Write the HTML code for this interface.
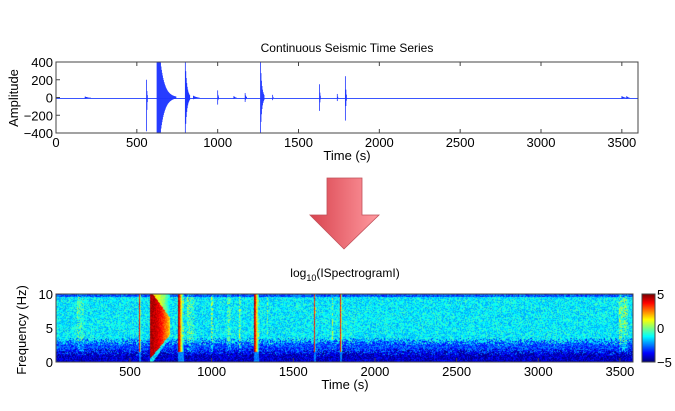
<!DOCTYPE html>
<html><head><meta charset="utf-8"><style>
body{margin:0;background:#fff;font-family:"Liberation Sans",Arial,sans-serif}
#wrap{position:relative;width:675px;height:411px;overflow:hidden}
svg text{font-family:"Liberation Sans",Arial,sans-serif}
canvas{position:absolute}
</style></head><body>
<div id="wrap">
<canvas id="spec" width="577" height="68" style="left:56px;top:294px"></canvas>
<canvas id="cbar" width="13" height="68" style="left:642px;top:294px"></canvas>
<svg id="svg" width="675" height="411" style="position:absolute;left:0;top:0"></svg>
</div>
<script>
// ---- data ----
const timeTicks=[0,500,1000,1500,2000,2500,3000,3500];
const ampTicks=[400,200,0,-200,-400];
const eventTimes=[180,560,625,800,850,1000,1100,1170,1265,1340,1630,1740,1790,3500,3530];
const eventUp=[10,200,400,400,20,80,15,50,400,30,150,40,240,15,15];
const eventDown=[-10,-380,-400,-400,-20,-80,-15,-50,-400,-30,-150,-40,-260,-15,-15];
const eventDur=[40,8,120,30,40,8,20,12,25,6,8,6,10,30,20];
const eventPower=[1.2,4,5,5,1.5,2,1.2,1.8,5,1.5,4,2,4,1.6,1.6];
const specTicks=[500,1000,1500,2000,2500,3000,3500];
const freqTicks=[0,5,10];
const cbarTicks=[5,0,-5];

const NS='http://www.w3.org/2000/svg';
const svg=document.getElementById('svg');
function el(tag,attrs,name,inter,text){const e=document.createElementNS(NS,tag);for(const k in attrs)e.setAttribute(k,attrs[k]);


if(text!==undefined)e.textContent=text;svg.appendChild(e);return e;}

// ---- top axes ----
const T={x0:56,x1:638,y0:62,y1:133,tmin:0,tmax:3600,amin:-400,amax:400};
const tx=t=>T.x0+(t-T.tmin)/(T.tmax-T.tmin)*(T.x1-T.x0);
const ay=a=>T.y1-(a-T.amin)/(T.amax-T.amin)*(T.y1-T.y0);
el('text',{x:347,y:52,'font-size':12,'text-anchor':'middle'},'top-title',false,'Continuous Seismic Time Series');
el('line',{x1:T.x0,x2:T.x1,y1:Math.round(ay(0))+0.5,y2:Math.round(ay(0))+0.5,stroke:'#3a55ff','stroke-width':1},'baseline-trace',false);
for(let i=0;i<eventTimes.length;i++){
  const t=eventTimes[i],d=eventDur[i];
  const n=Math.max(1,Math.round((tx(t+d)-tx(t))*2));
  for(let k=0;k<n;k++){const f=k/n;const dec=i==2?Math.min(1,2.2*Math.exp(-4.5*f)):Math.exp(-3*f);
    const x=tx(t+d*f);
    el('line',{x1:x,x2:x,y1:ay(Math.max(T.amin,eventDown[i]*(k==0?1:dec))),y2:ay(Math.min(T.amax,eventUp[i]*(k==0?1:dec))),stroke:'#1f36ff','stroke-width':0.8},'waveform-event',false);}
}
el('rect',{x:T.x0,y:T.y0,width:T.x1-T.x0,height:T.y1-T.y0,fill:'none',stroke:'#444','stroke-width':1},'top-axes-box',false);
timeTicks.forEach(t=>{const x=tx(t);
 el('line',{x1:x,x2:x,y1:T.y1,y2:T.y1-4,stroke:'#444'},'x-tick',false);
 el('line',{x1:x,x2:x,y1:T.y0,y2:T.y0+4,stroke:'#444'},'x-tick',false);
 el('text',{x:x,y:T.y1+14,'font-size':13,'text-anchor':'middle'},'x-tick-label',false,t);});
ampTicks.forEach(a=>{const y=ay(a);
 el('line',{x1:T.x0,x2:T.x0+4,y1:y,y2:y,stroke:'#444'},'y-tick',false);
 el('text',{x:T.x0-3,y:y+5,'font-size':13,'text-anchor':'end'},'y-tick-label',false,a<0?'−'+(-a):a);});
el('text',{x:347,y:160,'font-size':13,'text-anchor':'middle'},'x-axis-title',false,'Time (s)');
el('text',{x:18,y:98,'font-size':13,'text-anchor':'middle',transform:'rotate(-90 18 98)'},'y-axis-title',false,'Amplitude');

// ---- arrow ----
const defs=document.createElementNS(NS,'defs');
defs.innerHTML='<linearGradient id="ag" x1="0" x2="1"><stop offset="0" stop-color="#d9444f"/><stop offset="1" stop-color="#ff9aa0"/></linearGradient>';
svg.appendChild(defs);
el('polygon',{points:'327,178 362,178 362,215 379,215 344,249 310,215 327,215',fill:'url(#ag)',stroke:'#c0505a','stroke-width':0.8},'down-arrow',false);

// ---- spectrogram ----
const S={x0:56,x1:633,y0:294,y1:362,tmin:47,tmax:3580,fmin:0,fmax:10};
const sx=t=>S.x0+(t-S.tmin)/(S.tmax-S.tmin)*(S.x1-S.x0);
const fy=f=>S.y1-(f-S.fmin)/(S.fmax-S.fmin)*(S.y1-S.y0);
function jet(v){v=Math.max(0,Math.min(1,v));const r=Math.min(1,Math.max(0,1.5-Math.abs(4*v-3))),g=Math.min(1,Math.max(0,1.5-Math.abs(4*v-2))),b=Math.min(1,Math.max(0,1.5-Math.abs(4*v-1)));return [r*255,g*255,b*255];}
function hash(a,b){let h=(a*374761393+b*668265263)|0;h=(h^(h>>>13))*1274126177|0;return ((h^(h>>>16))>>>0)/4294967295;}
const cv=document.getElementById('spec'),cx=cv.getContext('2d');const W=cv.width,H=cv.height;
const img=cx.createImageData(W,H);
for(let px=0;px<W;px++){const t=S.tmin+(px+0.5)/W*(S.tmax-S.tmin);
 for(let py=0;py<H;py++){const f=S.fmax-(py+0.5)/H*S.fmax;
  const fb=f+(hash(py*7,px*3)-0.5)*1.2;
  let v=fb>3?-1.4:(fb>1.5?-3.0:-4.3); if(f>9.6)v-=1.5;
  const nz=(hash(px,py)-0.5)*1.8; v+=nz;
  for(let i=0;i<eventTimes.length;i++){const t0=eventTimes[i];const d=eventDur[i];
   if(t>=t0-3&&t<=t0+d){const fr=Math.max(0,(t-t0)/d);const P=eventPower[i];
    if(P<3){ if(f>1.5 && hash(px+i,py*5)<0.6) v+=P*(1-0.5*fr); continue;}
    let p=i==2?P-0.5-3*fr*fr:P-0.5-7*fr;
    if(i!=2 && fr>0.3 && f>1.5 && hash(px*3+i,py)<0.5) p=Math.max(p,v+1.2);
    if(i==2){const fl=0.5+3.5*fr; if(f<fl) p=-1.5+nz*0.5; const w=5.5-4*fr; if(Math.abs(f-5)>w) p-=3;}
    else if(f<1.5) p=-2.5;
    v=Math.max(v,p+nz*0.5);}}
  const c=jet((v+5)/10),o=(py*W+px)*4;img.data[o]=c[0];img.data[o+1]=c[1];img.data[o+2]=c[2];img.data[o+3]=255;}}
cx.putImageData(img,0,0);
const cb=document.getElementById('cbar').getContext('2d');
for(let y=0;y<68;y++){const c=jet(1-y/67);cb.fillStyle=`rgb(${c[0]|0},${c[1]|0},${c[2]|0})`;cb.fillRect(0,y,13,1);}
el('rect',{x:642,y:294,width:13,height:68,fill:'none',stroke:'#444'},'colorbar-box',false);
cbarTicks.forEach(v=>{const y=294+(5-v)/10*68;
 el('text',{x:657,y:y+5,'font-size':13},'colorbar-tick-label',false,v<0?'−'+(-v):v);});
el('rect',{x:S.x0,y:S.y0,width:S.x1-S.x0,height:S.y1-S.y0,fill:'none',stroke:'#444'},'spec-axes-box',false);
el('text',{x:345,y:277,'font-size':12,'text-anchor':'middle'},'spec-title',false,'log').innerHTML='log<tspan dy="4" font-size="9">10</tspan><tspan dy="-4">(ISpectrogramI)</tspan>';
specTicks.forEach(t=>{const x=sx(t);
 el('line',{x1:x,x2:x,y1:S.y1,y2:S.y1-4,stroke:'#444'},'spec-x-tick',false);
 el('text',{x:x,y:S.y1+14,'font-size':13,'text-anchor':'middle'},'spec-x-tick-label',false,t);});
freqTicks.forEach(f=>{const y=fy(f);
 el('text',{x:S.x0-3,y:y+5,'font-size':13,'text-anchor':'end'},'spec-y-tick-label',false,f);});
el('text',{x:345,y:389,'font-size':13,'text-anchor':'middle'},'spec-x-axis-title',false,'Time (s)');
el('text',{x:26,y:330,'font-size':13,'text-anchor':'middle',transform:'rotate(-90 26 330)'},'spec-y-axis-title',false,'Frequency (Hz)');
</script>
</body></html>
